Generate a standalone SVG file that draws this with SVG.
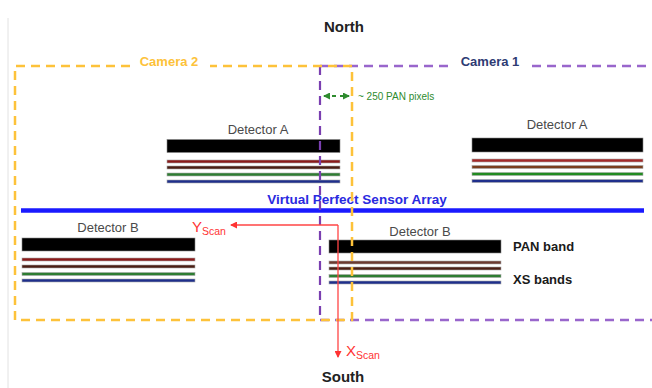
<svg xmlns="http://www.w3.org/2000/svg" width="652" height="388" viewBox="0 0 652 388">
<defs>
<marker id="redArrow" markerWidth="7" markerHeight="7" refX="6" refY="3.5" orient="auto" markerUnits="userSpaceOnUse">
<path d="M0,0 L7,3.5 L0,7 Z" fill="#FF3333"/>
</marker>
<marker id="greenArrow" markerWidth="7" markerHeight="7" refX="6" refY="3.5" orient="auto-start-reverse" markerUnits="userSpaceOnUse">
<path d="M0,0 L7,3.5 L0,7 Z" fill="#2E8B2E"/>
</marker>
</defs>
<style>
.t{font-family:"Liberation Sans",Arial,sans-serif}
.b{font-weight:bold}
.det{font-size:13px;fill:#4a4a4a}
.bar{fill:#000;stroke:#888;stroke-width:0.6}
.ln{stroke:#aaa;stroke-width:0.6}
.orange{fill:none;stroke:#FDC23A;stroke-width:2.5;stroke-dasharray:9 6}
.purple{fill:none;stroke:#9966CC;stroke-width:2.5;stroke-dasharray:9 6}
.purpleDark{fill:none;stroke:#7A3FB0;stroke-width:2.2;stroke-dasharray:9 6}
.red{stroke:#FF4444;stroke-width:1.3;fill:none}
</style>
<rect width="652" height="388" fill="#fff"/>
<line x1="8" y1="18" x2="8" y2="388" stroke="#e2e2e2" stroke-width="1"/>

<g id="north"><text class="t b" x="344" y="32" font-size="15" text-anchor="middle" fill="#222">North</text></g>
<g id="south"><text class="t b" x="343" y="382" font-size="15" text-anchor="middle" fill="#222">South</text></g>

<g id="detA2">
<text class="t det" x="258" y="134" text-anchor="middle">Detector A</text>
<rect class="bar" x="167" y="139.5" width="173" height="13"/>
<rect class="ln" x="167" y="160" width="173" height="3" fill="#8B1A1A"/>
<rect class="ln" x="167" y="166" width="173" height="3" fill="#4B1E14"/>
<rect class="ln" x="167" y="173" width="173" height="3" fill="#2E7D32"/>
<rect class="ln" x="167" y="180" width="173" height="3" fill="#1F2F8C"/>
</g>

<g id="detA1">
<text class="t det" x="557" y="129" text-anchor="middle">Detector A</text>
<rect class="bar" x="472" y="138" width="171" height="14"/>
<rect class="ln" x="472" y="159" width="171" height="3" fill="#A52A2A"/>
<rect class="ln" x="472" y="165.5" width="171" height="3" fill="#7B3F1F"/>
<rect class="ln" x="472" y="172.5" width="171" height="3" fill="#228B22"/>
<rect class="ln" x="472" y="179.5" width="171" height="3" fill="#1F2F8C"/>
</g>

<g id="sensorArray">
<line x1="21" y1="210.5" x2="644" y2="210.5" stroke="#1A1AFF" stroke-width="4.5"/>
<text class="t b" x="357" y="204" font-size="13.5" text-anchor="middle" fill="#2A2AE0">Virtual Perfect Sensor Array</text>
</g>

<g id="detB2">
<text class="t det" x="108" y="232" text-anchor="middle">Detector B</text>
<rect class="bar" x="22" y="238" width="173" height="13"/>
<rect class="ln" x="22" y="258" width="173" height="3" fill="#8B1A1A"/>
<rect class="ln" x="22" y="265" width="173" height="3" fill="#4B1E14"/>
<rect class="ln" x="22" y="272.5" width="173" height="3" fill="#2E7D32"/>
<rect class="ln" x="22" y="279" width="173" height="3" fill="#1F2F8C"/>
</g>

<g id="detB1">
<text class="t det" x="420" y="236" text-anchor="middle">Detector B</text>
<rect class="bar" x="329" y="240" width="172" height="13"/>
<rect class="ln" x="329" y="261" width="172" height="3" fill="#6B3A30"/>
<rect class="ln" x="329" y="267" width="172" height="3" fill="#4B1E14"/>
<rect class="ln" x="329" y="274.5" width="172" height="3" fill="#2E7D32"/>
<rect class="ln" x="329" y="281" width="172" height="3" fill="#1F2F8C"/>
<text class="t b" x="513" y="251" font-size="13" fill="#1a1a1a">PAN band</text>
<text class="t b" x="513" y="284" font-size="13" fill="#1a1a1a">XS bands</text>
</g>

<g id="camera1">
<path class="purple" d="M448,66 H320"/>
<path class="purpleDark" d="M320,66 V320"/>
<path class="purple" d="M320,320 H652"/>
<path class="purple" d="M532,66 H652"/>
<text class="t b" x="490" y="66" font-size="13" text-anchor="middle" fill="#2E3B73">Camera 1</text>
</g>

<g id="camera2">
<path class="orange" d="M130,66 H15 V320 H352 V66 H210"/>
<text class="t b" x="169" y="66" font-size="13" text-anchor="middle" fill="#FDC23A">Camera 2</text>
</g>

<g id="connectors">
<path class="red" d="M338,225 H231" marker-end="url(#redArrow)"/>
<path class="red" d="M338,225 V357" marker-end="url(#redArrow)"/>
<line x1="324" y1="96" x2="349" y2="96" stroke="#2E8B2E" stroke-width="2" stroke-dasharray="4 4" marker-start="url(#greenArrow)" marker-end="url(#greenArrow)"/>
</g>

<g id="labels">
<text class="t" x="358" y="100" font-size="10" fill="#2E8B2E">~ 250 PAN pixels</text>
<text class="t" x="192" y="232" font-size="15" fill="#FF3333">Y<tspan font-size="10.5" dy="3">Scan</tspan></text>
<text class="t" x="346" y="356" font-size="15" fill="#FF3333">X<tspan font-size="10.5" dy="3">Scan</tspan></text>
</g>
</svg>
